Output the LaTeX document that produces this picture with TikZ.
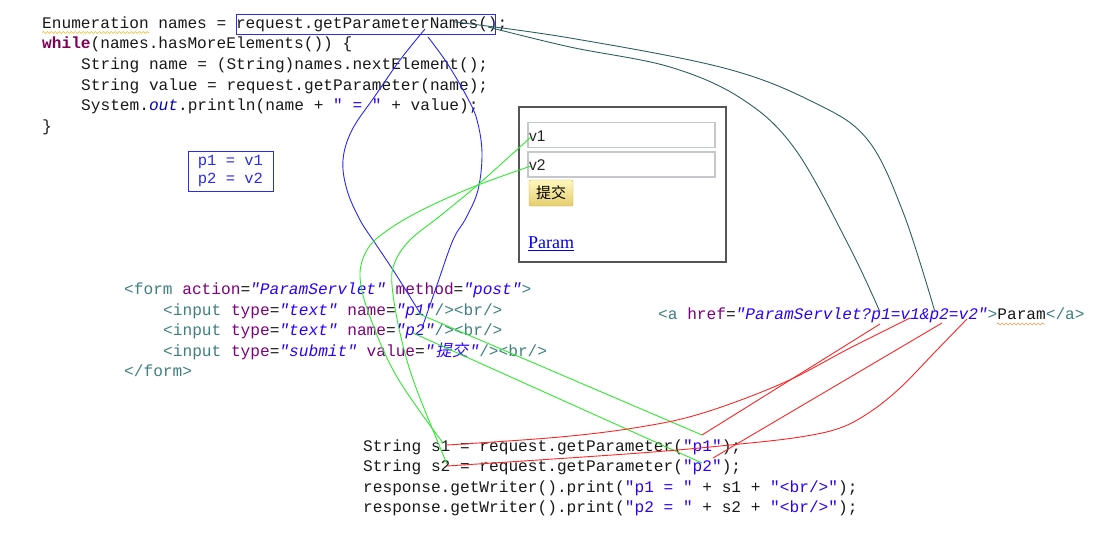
\documentclass[tikz,border=0pt]{standalone}
\usepackage{fontspec}
\usetikzlibrary{decorations.pathmorphing}
\newfontfamily\codefont{Liberation Mono}
\newfontfamily\cjkfont{Noto Sans CJK SC}
\newfontfamily\cjkslant{Noto Sans CJK SC}[FakeSlant=0.2]
\newfontfamily\arialfont{Liberation Sans}
\newfontfamily\timesfont{Liberation Serif}
\definecolor{kw}{HTML}{7F0055}
\definecolor{str}{HTML}{2A00FF}
\definecolor{fld}{HTML}{0000C0}
\definecolor{tag}{HTML}{3F7F7F}
\definecolor{attr}{HTML}{7F007F}
\definecolor{boxblue}{HTML}{2A2AF0}
\definecolor{lblue}{HTML}{2828F8}
\definecolor{lgreen}{HTML}{2EEA2E}
\definecolor{lred}{HTML}{FF2424}
\definecolor{lteal}{HTML}{2F5F5F}
\definecolor{linkblue}{HTML}{0000EE}
\definecolor{frame}{HTML}{555555}
\definecolor{fieldgray}{HTML}{C4C8CC}
\newcommand\Kw[1]{\textcolor{kw}{\bfseries #1}}
\newcommand\Sv[1]{\textcolor{str}{#1}}
\newcommand\Fd[1]{\textcolor{fld}{\itshape #1}}
\newcommand\Tg[1]{\textcolor{tag}{#1}}
\newcommand\At[1]{\textcolor{attr}{#1}}
\newcommand\Av[1]{\textcolor{str}{\itshape #1}}
\tikzset{
  code/.style={font=\codefont\fontsize{16.15}{20}\selectfont, anchor=base west, inner sep=0pt, text=black!90},
  hibox/.style={draw=boxblue, line width=0.9pt, inner sep=0pt},
  field/.style={draw=fieldgray, line width=1.3pt, minimum width=187pt, minimum height=25pt, inner sep=0pt},
  fieldtext/.style={anchor=base west, inner sep=0pt, font=\arialfont\fontsize{15.5}{17}\selectfont, text=black!85},
  blueline/.style={draw=lblue, line width=0.9pt},
  greenline/.style={draw=lgreen, line width=0.9pt},
  redline/.style={draw=lred, line width=0.9pt},
  tealline/.style={draw=lteal, line width=0.9pt},
  squig/.style={decorate, decoration={snake, amplitude=0.9pt, segment length=4pt}, line width=0.6pt}
}
\begin{document}
\begin{tikzpicture}[x=1pt,y=-1pt]
\useasboundingbox[fill=white] (0,0) rectangle (1106,546);

% ---- top Java code
\node[code] (c1) at (42,28) {Enumeration names = request.getParameterNames();};
\node[code] (c2) at (42,48.5) {\Kw{while}(names.hasMoreElements()) \{};
\node[code] (c3) at (81,69) {String name = (String)names.nextElement();};
\node[code] (c4) at (81,90) {String value = request.getParameter(name);};
\node[code] (c5) at (81,110.5) {System.\Fd{out}.println(name + \Sv{" = "} + value);};
\node[code] (c6) at (42,131) {\}};
\draw[squig, draw={rgb,255:red,230;green,190;blue,40}] (42,32.5) -- (149,32.5);
\node[hibox, minimum width=259pt, minimum height=20pt] (gpn) at (365.5,24.5) {};

% ---- result box
\node[hibox, minimum width=85pt, minimum height=40pt, align=left, text=boxblue,
      font=\codefont\fontsize{15.5}{18}\selectfont] (res) at (230.5,171) {p1 = v1\\p2 = v2};

% ---- browser
\node[draw=frame, line width=1.3pt, minimum width=207pt, minimum height=155pt, inner sep=0pt] (browser) at (622.5,184.5) {};
\node[field] (in1) at (621.5,135) {};
\node[field] (in2) at (621.5,164.5) {};
\node[fieldtext] (v1t) at (529,141) {v1};
\node[fieldtext] (v2t) at (529,170.5) {v2};
\node[draw={rgb,255:red,200;green,170;blue,60}, rounded corners=2pt, top color={rgb,255:red,255;green,248;blue,190},
      bottom color={rgb,255:red,228;green,205;blue,110}, minimum width=44pt, minimum height=26pt, inner sep=0pt,
      font=\cjkfont\fontsize{15}{16}\selectfont] (btn) at (551,193) {提交};
\node[anchor=base west, inner sep=0pt, font=\timesfont\fontsize{18}{20}\selectfont, text=linkblue] (plink) at (528,248.5) {\underline{Param}};

% ---- form code
\node[code] (f1) at (124,294.5) {\Tg{<form} \At{action}=\Av{"ParamServlet"} \At{method}=\Av{"post"}\Tg{>}};
\node[code] (f2) at (163,315) {\Tg{<input} \At{type}=\Av{"text"} \At{name}=\Av{"p1"}\Tg{/><br/>}};
\node[code] (f3) at (163,335.5) {\Tg{<input} \At{type}=\Av{"text"} \At{name}=\Av{"p2"}\Tg{/><br/>}};
\node[code] (f4) at (163,356) {\Tg{<input} \At{type}=\Av{"submit"} \At{value}=\Av{"\makebox[35pt][c]{\cjkslant 提交}"}\Tg{/><br/>}};
\node[code] (f5) at (124,376.5) {\Tg{</form>}};

% ---- href code
\node[code] (ha) at (658,319) {\Tg{<a} \At{href}=\Av{"ParamServlet?p1=v1\&p2=v2"}\Tg{>}Param\Tg{</a>}};
\draw[squig, draw={rgb,255:red,240;green,150;blue,70}] (997,324) -- (1045,324);

% ---- servlet code
\node[code] (s1l) at (363,451) {String s1 = request.getParameter(\Sv{"p1"});};
\node[code] (s2l) at (363,471.5) {String s2 = request.getParameter(\Sv{"p2"});};
\node[code] (s3l) at (363,492) {response.getWriter().print(\Sv{"p1 = "} + s1 + \Sv{"<br/>"});};
\node[code] (s4l) at (363,512.5) {response.getWriter().print(\Sv{"p2 = "} + s2 + \Sv{"<br/>"});};

% ---- connector end points
\coordinate (gpnA) at (425,29);
\coordinate (gpnB) at (428,37);
\coordinate (gpnT1) at (488,27);
\coordinate (gpnT2) at (455,22);
\coordinate (fp1b) at (420,313);
\coordinate (fp2b) at (422,328);
\coordinate (fp1g) at (417,313);
\coordinate (fp2g) at (413,333);
\coordinate (gv1) at (531,137);
\coordinate (gv2) at (531,166);
\coordinate (ss1g) at (443,443);
\coordinate (ss2g) at (447,464);
\coordinate (sp1) at (702,435);
\coordinate (sp2) at (702,463);
\coordinate (sp2r) at (713,458);
\coordinate (ss1r) at (447,445);
\coordinate (ss2r) at (447,466);
\coordinate (hp1) at (880,324);
\coordinate (hv1) at (910,318);
\coordinate (hp2) at (942,323);
\coordinate (hv2) at (967,319);
\coordinate (hp1t) at (880,312);
\coordinate (hp2t) at (935,312);

% ---- blue
\draw[blueline] plot[smooth, tension=0.6] coordinates {(gpnA) (400,60) (375,96) (352,130) (343,160) (347,190) (360,220) (375,243) (395,273) (fp1b)};
\draw[blueline] plot[smooth, tension=0.6] coordinates {(gpnB) (447,63) (467,97) (477,120) (482,153) (478,190) (466,218) (453,240) (437,285) (fp2b)};

% ---- teal
\draw[tealline] plot[smooth, tension=0.6] coordinates {(gpnT1) (570,47) (670,67) (742,99) (795,149) (849,246) (hp1t)};
\draw[tealline] plot[smooth, tension=0.6] coordinates {(gpnT2) (570,38) (724,68) (813,102) (867,139) (903,212) (hp2t)};

% ---- green
\draw[greenline] plot[smooth, tension=0.6] coordinates {(gv2) (473,187) (420,211) (385,232) (367,250) (360,277) (370,317) (397,377) (ss1g)};
\draw[greenline] plot[smooth, tension=0.6] coordinates {(gv1) (500,165) (473,189) (440,216) (410,240) (395,262) (392,285) (400,333) (415,385) (ss2g)};
\draw[greenline] (fp1g) -- (sp1);
\draw[greenline] (fp2g) -- (sp2);

% ---- red
\draw[redline] (hp1) -- (sp1);
\draw[redline] (hp2) -- (sp2r);
\draw[redline] plot[smooth, tension=0.6] coordinates {(hv1) (850,348) (783,383) (703,413) (640,427) (560,437) (ss1r)};
\draw[redline] plot[smooth, tension=0.6] coordinates {(hv2) (935,352) (900,388) (870,412) (840,428) (800,437) (740,444) (640,453) (ss2r)};
\end{tikzpicture}
\end{document}
